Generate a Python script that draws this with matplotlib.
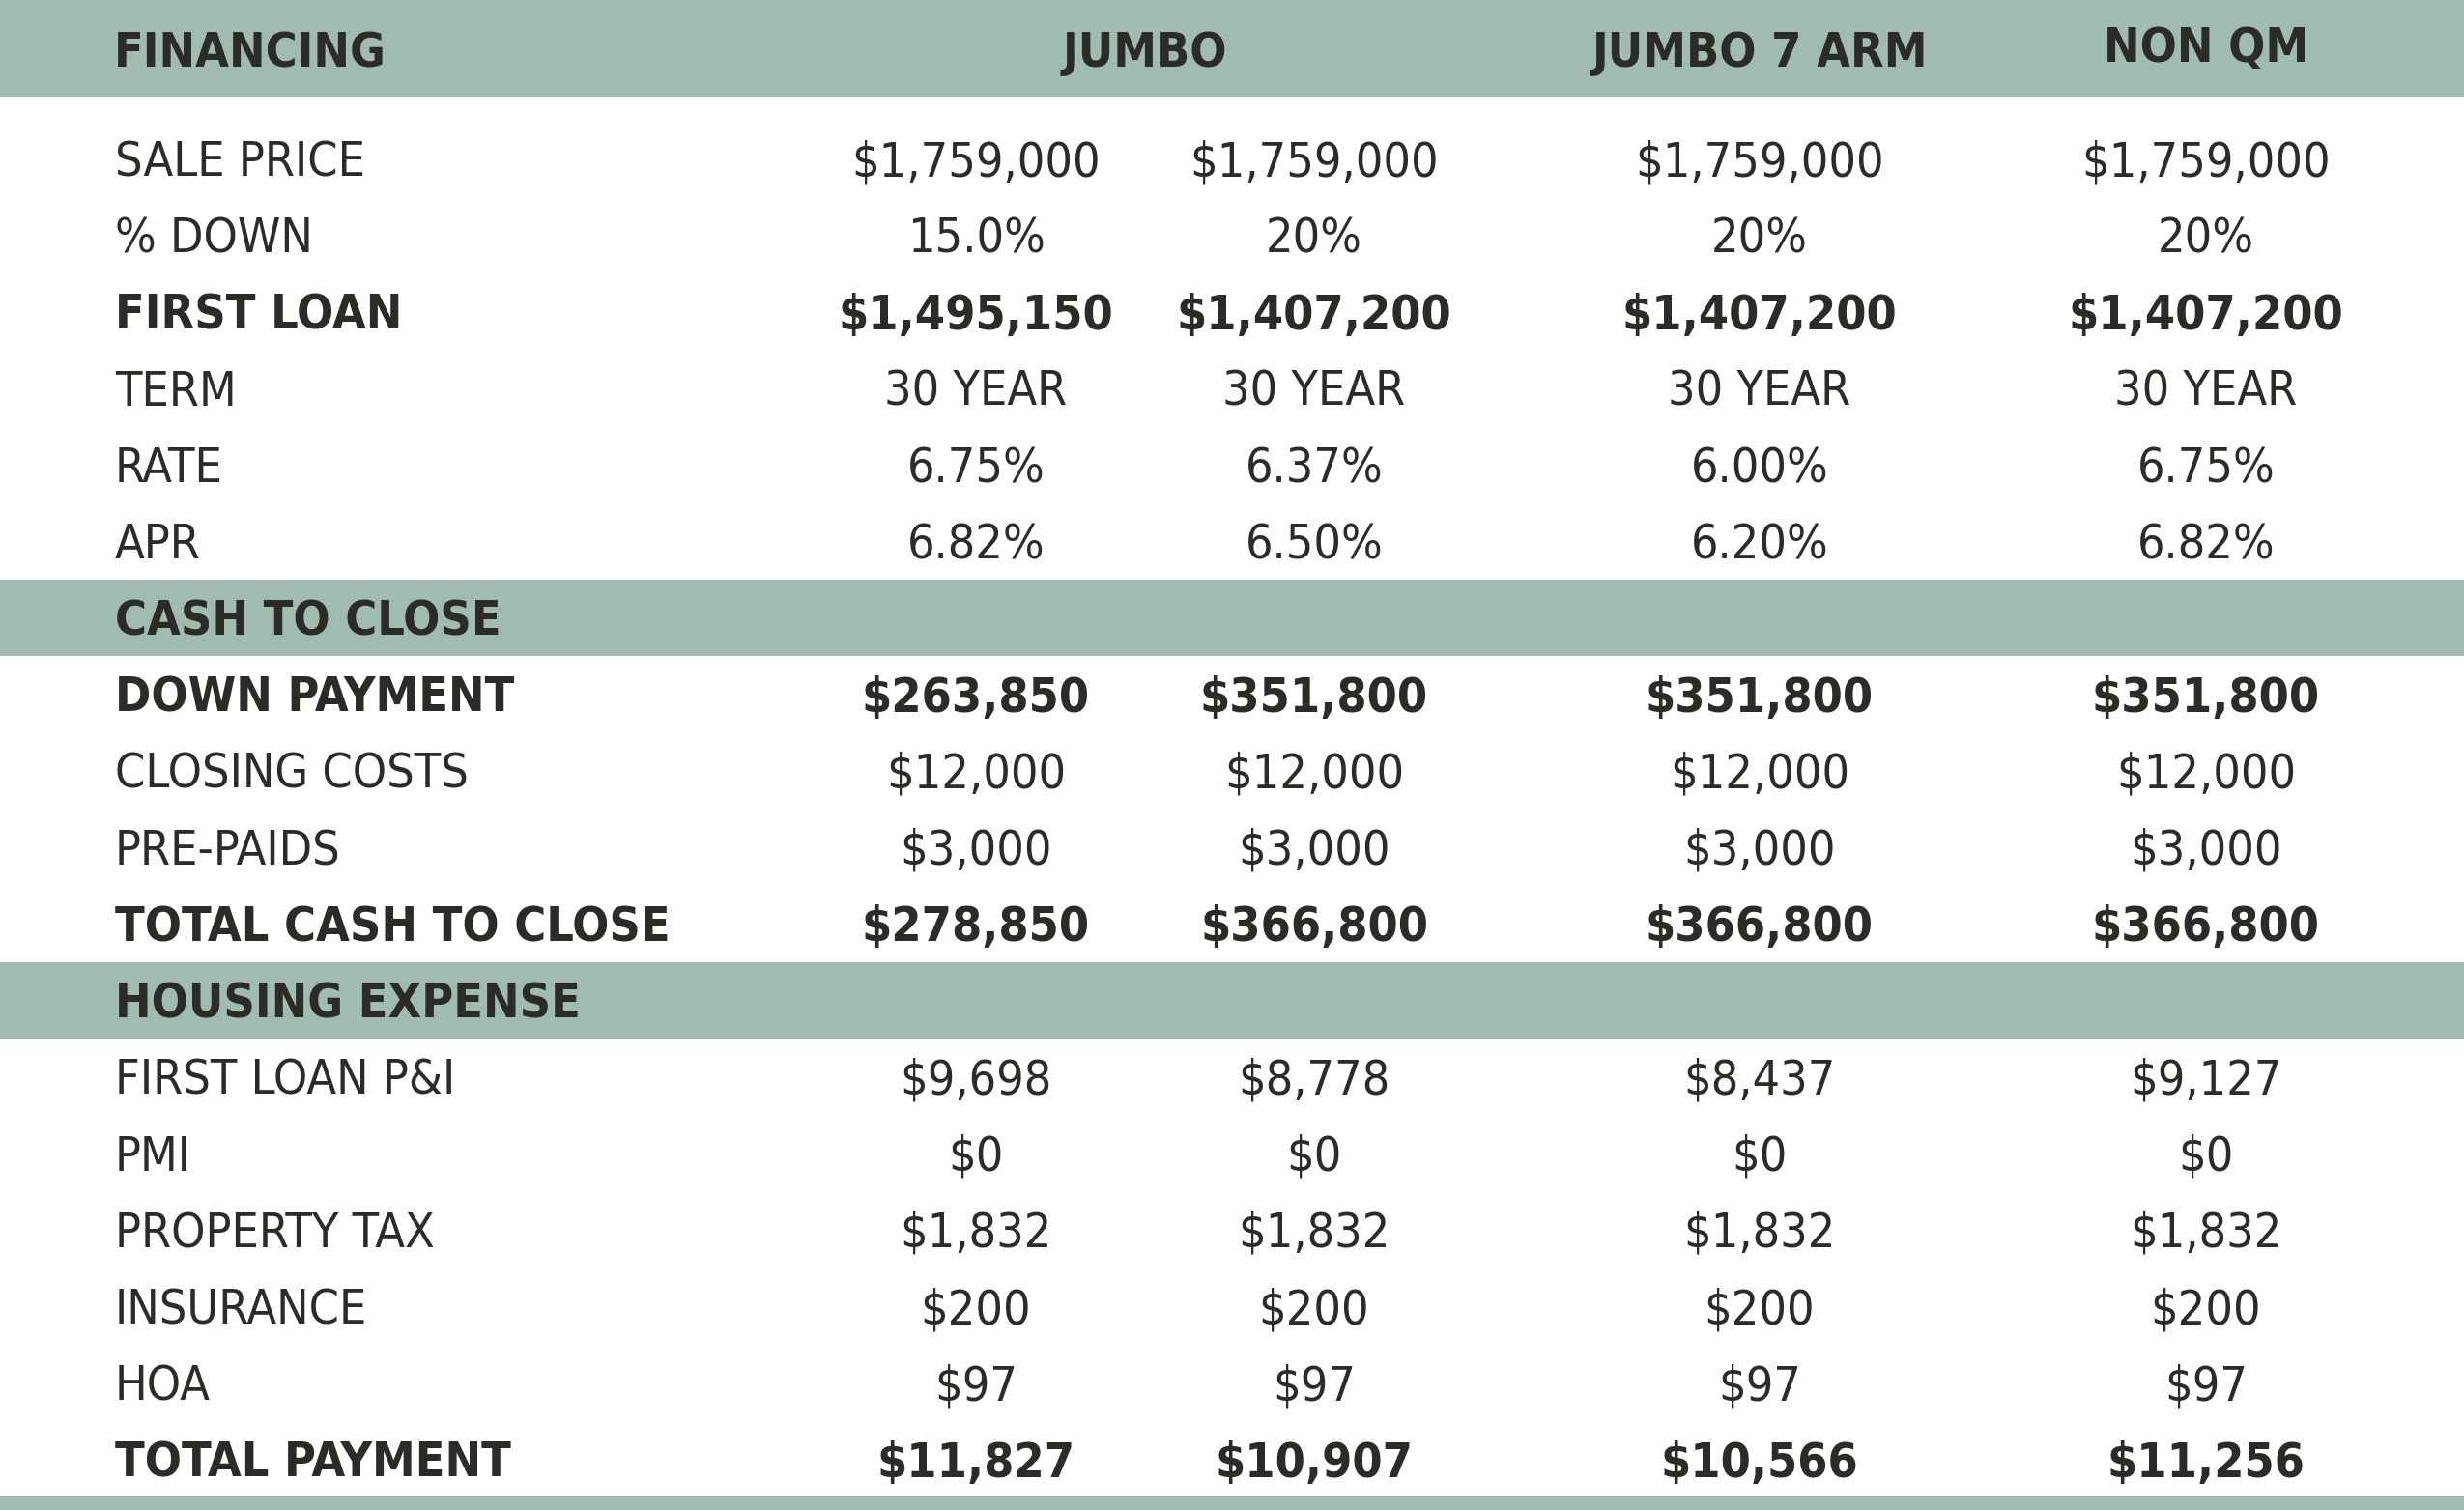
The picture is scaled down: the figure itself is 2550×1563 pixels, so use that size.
import matplotlib
matplotlib.use("Agg")
import matplotlib.pyplot as plt
from matplotlib.patches import Rectangle

# ---- data ----
header_labels = ["FINANCING", "JUMBO", "JUMBO 7 ARM", "NON QM"]

row_labels = [
    "SALE PRICE", "% DOWN", "FIRST LOAN", "TERM", "RATE", "APR",
    "CASH TO CLOSE",
    "DOWN PAYMENT", "CLOSING COSTS", "PRE-PAIDS", "TOTAL CASH TO CLOSE",
    "HOUSING EXPENSE",
    "FIRST LOAN P&I", "PMI", "PROPERTY TAX", "INSURANCE", "HOA", "TOTAL PAYMENT",
]
section_rows = ["CASH TO CLOSE", "HOUSING EXPENSE"]
bold_rows = ["FIRST LOAN", "DOWN PAYMENT", "TOTAL CASH TO CLOSE", "TOTAL PAYMENT"]

col_jumbo_15 = ["$1,759,000", "15.0%", "$1,495,150", "30 YEAR", "6.75%", "6.82%", "",
                "$263,850", "$12,000", "$3,000", "$278,850", "",
                "$9,698", "$0", "$1,832", "$200", "$97", "$11,827"]
col_jumbo_20 = ["$1,759,000", "20%", "$1,407,200", "30 YEAR", "6.37%", "6.50%", "",
                "$351,800", "$12,000", "$3,000", "$366,800", "",
                "$8,778", "$0", "$1,832", "$200", "$97", "$10,907"]
col_jumbo_arm = ["$1,759,000", "20%", "$1,407,200", "30 YEAR", "6.00%", "6.20%", "",
                 "$351,800", "$12,000", "$3,000", "$366,800", "",
                 "$8,437", "$0", "$1,832", "$200", "$97", "$10,566"]
col_non_qm = ["$1,759,000", "20%", "$1,407,200", "30 YEAR", "6.75%", "6.82%", "",
              "$351,800", "$12,000", "$3,000", "$366,800", "",
              "$9,127", "$0", "$1,832", "$200", "$97", "$11,256"]
value_columns = [col_jumbo_15, col_jumbo_20, col_jumbo_arm, col_non_qm]

# ---- layout ----
W, H = 2550, 1563
BAND = "#9fbbb2"
TXT = "#2b2b28"
FS = 36
FAM = "DejaVu Sans"
STRETCH = "condensed"

fig = plt.figure(figsize=(W / 100, H / 100), dpi=100)
ax = fig.add_axes([0, 0, 1, 1])
ax.set_xlim(0, W)
ax.set_ylim(H, 0)
ax.axis("off")

label_x = 119
col_x = [1010, 1360, 1821, 2283]
row0_y = 164.2
pitch = 79.2
cap_half = 18

# header band
ax.add_patch(Rectangle((0, 0), W, 100, facecolor=BAND, edgecolor="none"))
hdr_x = [118, (col_x[0] + col_x[1]) / 2, col_x[2], col_x[3]]
hdr_y = [51, 51, 51, 46]
for i, t in enumerate(header_labels):
    ax.text(hdr_x[i], hdr_y[i] + cap_half, t, ha="left" if i == 0 else "center",
            va="baseline", fontsize=FS, fontweight="bold", color=TXT,
            family=FAM, fontstretch=STRETCH)

# bottom band
ax.add_patch(Rectangle((0, 1549), W, H - 1549, facecolor=BAND, edgecolor="none"))

for i, lab in enumerate(row_labels):
    yc = row0_y + i * pitch
    if lab in section_rows:
        ax.add_patch(Rectangle((0, yc - pitch / 2), W, pitch, facecolor=BAND, edgecolor="none"))
    bold = lab in bold_rows or lab in section_rows
    w = "bold" if bold else "normal"
    ax.text(label_x, yc + cap_half, lab, ha="left", va="baseline", fontsize=FS,
            fontweight=w, color=TXT, family=FAM, fontstretch=STRETCH)
    for cx, col in zip(col_x, value_columns):
        if col[i]:
            ax.text(cx, yc + cap_half, col[i], ha="center", va="baseline", fontsize=FS,
                    fontweight=w, color=TXT, family=FAM, fontstretch=STRETCH)

fig.savefig("out.png", dpi=100, facecolor="white")
